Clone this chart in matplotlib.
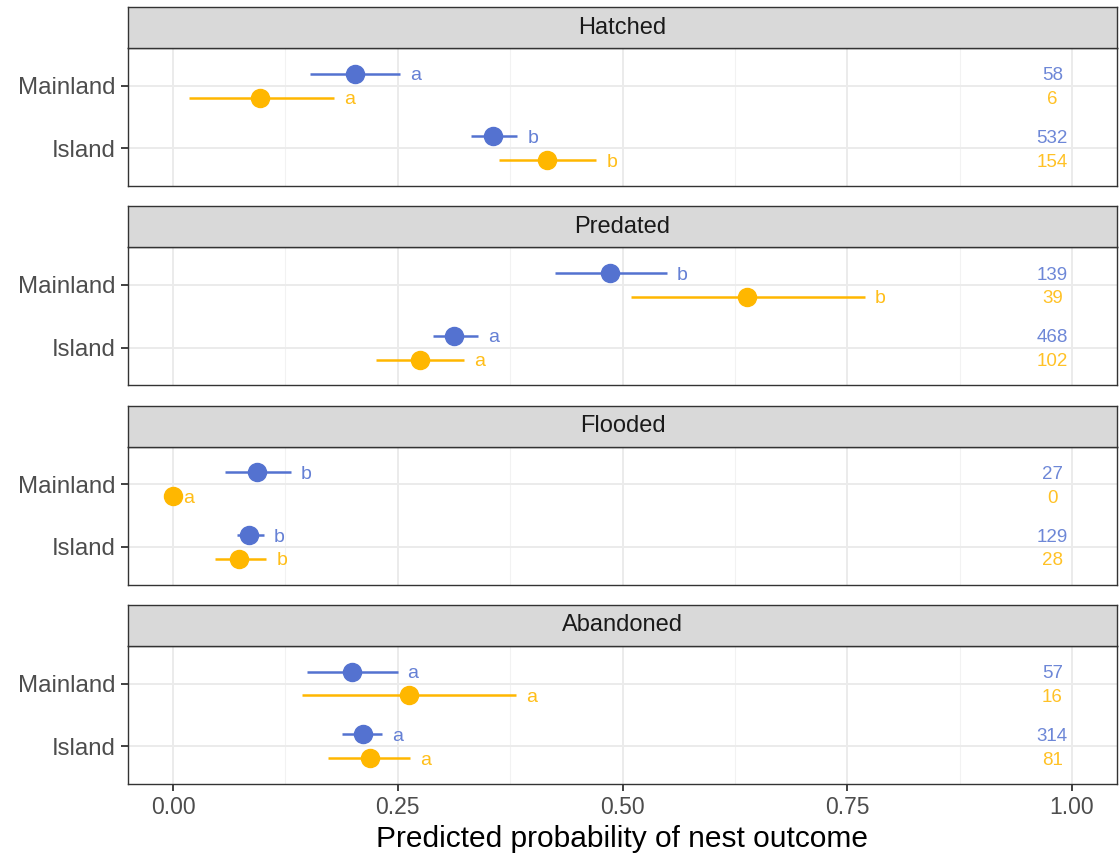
#!/usr/bin/env python3
# -*- coding: utf-8 -*-
import numpy as np
import matplotlib.pyplot as plt

plt.rcParams["font.family"] = ["Liberation Sans", "DejaVu Sans"]

BLUE = "#5472D0"
ORANGE = "#FFB700"

outcomes = ["Hatched", "Predated", "Flooded", "Abandoned"]
sites = ["Mainland", "Island"]

# values per outcome: [Mainland, Island]
blue_est = [[0.202, 0.356], [0.486, 0.313], [0.093, 0.085], [0.199, 0.211]]
blue_lo = [[0.152, 0.332], [0.425, 0.289], [0.058, 0.071], [0.149, 0.188]]
blue_hi = [[0.253, 0.383], [0.549, 0.339], [0.131, 0.101], [0.250, 0.233]]
blue_letter = [["a", "b"], ["b", "a"], ["b", "b"], ["a", "a"]]
blue_n = [[58, 532], [139, 468], [27, 129], [57, 314]]

orange_est = [[0.097, 0.416], [0.639, 0.275], [0.0, 0.074], [0.262, 0.219]]
orange_lo = [[0.018, 0.363], [0.509, 0.226], [0.0, 0.047], [0.143, 0.173]]
orange_hi = [[0.179, 0.471], [0.770, 0.324], [0.0, 0.104], [0.382, 0.264]]
orange_letter = [["a", "b"], ["b", "a"], ["a", "b"], ["a", "a"]]
orange_n = [[6, 154], [39, 102], [0, 28], [16, 81]]

W, H = 1119, 855
fig = plt.figure(figsize=(W / 100, H / 100), dpi=100)

left, right = 128, 1117
panel_h, strip_h, step = 138, 41, 199.3
site_y = {"Mainland": 2, "Island": 1}
dodge = 0.19

for i, outcome in enumerate(outcomes):
    top = 48 + step * i
    ax = fig.add_axes([left / W, 1 - (top + panel_h) / H, (right - left) / W, panel_h / H])
    sax = fig.add_axes([left / W, 1 - top / H, (right - left) / W, strip_h / H])

    # strip
    sax.set_facecolor("#D9D9D9")
    sax.set_xticks([])
    sax.set_yticks([])
    for sp in sax.spines.values():
        sp.set_color("#333333")
        sp.set_linewidth(1.0)
    sax.text(0.5, 0.5, outcome, ha="center", va="center", fontsize=17,
             color="#1A1A1A", transform=sax.transAxes)

    ax.set_xlim(-0.05, 1.05)
    ax.set_ylim(0.4, 2.6)
    ax.set_xticks([0, 0.25, 0.5, 0.75, 1.0])
    ax.set_xticks([0.125, 0.375, 0.625, 0.875], minor=True)
    ax.set_yticks([site_y[s] for s in sites])
    ax.set_yticklabels(sites)
    ax.grid(True, which="major", color="#EBEBEB", linewidth=1.4, zorder=0)
    ax.grid(True, which="minor", axis="x", color="#F2F2F2", linewidth=0.8, zorder=0)
    ax.set_axisbelow(True)
    for sp in ax.spines.values():
        sp.set_color("#333333")
        sp.set_linewidth(1.0)
    ax.tick_params(axis="y", which="both", length=5, width=1.3, color="#333333",
                   labelsize=17.3, labelcolor="#4D4D4D", pad=4)
    ax.tick_params(axis="x", which="minor", length=0)
    if i < len(outcomes) - 1:
        ax.tick_params(axis="x", which="major", length=0, labelbottom=False)
    else:
        ax.tick_params(axis="x", which="major", length=5, width=1.3, color="#333333",
                       labelsize=16.5, labelcolor="#4D4D4D", pad=4)
        ax.set_xticklabels(["0.00", "0.25", "0.50", "0.75", "1.00"])
        ax.set_xlabel("Predicted probability of nest outcome", fontsize=21.5,
                      color="black", labelpad=4)

    for j, s in enumerate(sites):
        for est, lo, hi, let, n, col, off in [
            (blue_est, blue_lo, blue_hi, blue_letter, blue_n, BLUE, dodge),
            (orange_est, orange_lo, orange_hi, orange_letter, orange_n, ORANGE, -dodge),
        ]:
            y = site_y[s] + off
            ax.plot([lo[i][j], hi[i][j]], [y, y], color=col, linewidth=1.8,
                    solid_capstyle="butt", zorder=3)
            ax.plot(est[i][j], y, "o", color=col, markersize=13, zorder=4)
            ax.text(hi[i][j] + 0.011, y, let[i][j], ha="left", va="center_baseline",
                    fontsize=14, color=col, alpha=0.9, zorder=5)
            ax.text(0.978, y, str(n[i][j]), ha="center", va="center_baseline",
                    fontsize=13.5, color=col, alpha=0.85, zorder=5)

fig.savefig("out.png", dpi=100)
